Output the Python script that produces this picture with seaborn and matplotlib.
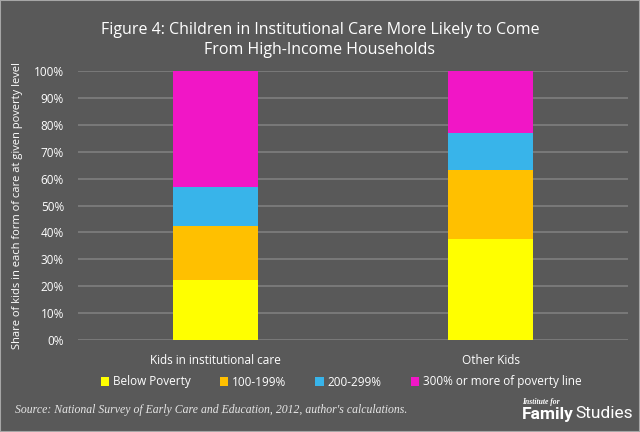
import numpy as np
import pandas as pd
import seaborn as sns
import matplotlib.pyplot as plt
from matplotlib.patches import Patch, Rectangle

# Data (shares, 0-1)
groups = ["Kids in institutional care", "Other Kids"]
levels = ["Below Poverty", "100-199%", "200-299%", "300% or more of poverty line"]
below_poverty = [0.223, 0.375]
pct_100_199 = [0.202, 0.256]
pct_200_299 = [0.144, 0.140]
pct_300_plus = [0.431, 0.229]
colors = ["#FFFF00", "#FFC000", "#38B4EA", "#F116C6"]

BG = "#595959"
GRID = "#7F7F7F"

sns.set_theme(style="dark")
plt.rcParams['font.family'] = ['Open Sans', 'DejaVu Sans']

df = pd.DataFrame({
    "group": groups * 4,
    "level": np.repeat(levels, 2),
    "share": below_poverty + pct_100_199 + pct_200_299 + pct_300_plus,
})
df["level"] = pd.Categorical(df["level"], levels, ordered=True)
df = df.sort_values(["group", "level"])
df["top"] = df.groupby("group")["share"].cumsum()

fig = plt.figure(figsize=(6.4, 4.32), dpi=100, facecolor=BG)
ax = fig.add_axes([78 / 640, 1 - 340 / 432, 550 / 640, 269 / 432])
ax.set_facecolor(BG)

# stacked bars: draw the tallest layer first, then the lower ones on top
for lvl, col in reversed(list(zip(levels, colors))):
    sub = df[df["level"] == lvl]
    sns.barplot(data=sub, x="group", y="top", order=groups, color=col,
                width=0.31, saturation=1, linewidth=0, ax=ax, zorder=3)

ax.set_ylim(0, 1)
ax.set_xlim(-0.5, 1.5)
ticks = np.arange(0, 1.01, 0.1)
ax.set_yticks(ticks)
ax.set_yticklabels([f"{int(round(v * 100))}%" for v in ticks])
ax.yaxis.grid(True, color=GRID, linewidth=1.2, zorder=0)
ax.xaxis.grid(False)
ax.set_axisbelow(True)
for s in ax.spines.values():
    s.set_visible(False)
ax.tick_params(axis="both", colors="white", labelsize=8.5, length=0)
ax.tick_params(axis="x", pad=10)
ax.tick_params(axis="y", pad=10)
ax.set_xlabel("")
ax.set_ylabel("Share of kids in each form of care at given poverty level",
              color="white", fontsize=8, labelpad=8)

fig.text(0.5, 1 - 40 / 432, "Figure 4: Children in Institutional Care More Likely to Come\nFrom High-Income Households",
         ha="center", va="center", color="white", fontsize=11.5, linespacing=1.35)

handles = [Patch(facecolor=c, edgecolor="none", label=l) for l, c in zip(levels, colors)]
fig.legend(handles=handles, loc="center", bbox_to_anchor=(341 / 640, 1 - 382 / 432), ncol=4,
           frameon=False, fontsize=8.5, labelcolor="white", handlelength=0.7,
           handleheight=0.7, handletextpad=0.3, columnspacing=2.5)

fig.text(15 / 640, 1 - 410 / 432,
         "Source: National Survey of Early Care and Education, 2012, author's calculations.",
         family=['Liberation Serif'], style="italic", color="#E6E6E6", fontsize=8.5,
         ha="left", va="center")
fig.text(522 / 640, 1 - 402 / 432, "Institute for", family=['Liberation Serif'],
         style="italic", weight="bold", color="white", fontsize=5.5, ha="left", va="center")
fig.text(522 / 640, 1 - 414 / 432, "Family", family=['Roboto', 'DejaVu Sans'],
         weight="bold", color="white", fontsize=12.5, ha="left", va="center")
fig.text(575 / 640, 1 - 414 / 432, "Studies", family=['Roboto', 'DejaVu Sans'],
         color="white", fontsize=12.5, ha="left", va="center")

# thin light frame around the image
fig.patches.append(Rectangle((0, 0), 1, 1, transform=fig.transFigure, fill=False,
                             edgecolor="#A6A6A6", linewidth=1.5))

fig.savefig("out.png", dpi=100, facecolor=BG)
